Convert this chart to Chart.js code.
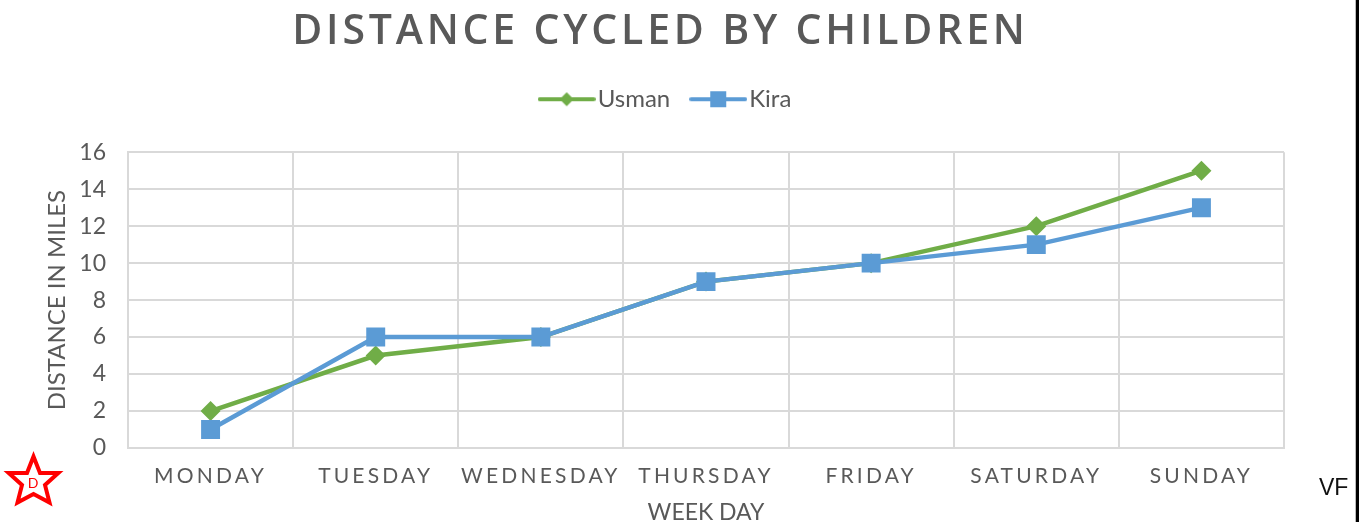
<!DOCTYPE html>
<html>
<head>
<meta charset="utf-8">
<script src="https://cdn.jsdelivr.net/npm/chart.js@4"></script>
<style>
html,body{margin:0;padding:0;background:#fff;}
#wrap{position:relative;width:1367px;height:522px;overflow:hidden;}
#rightLine{position:absolute;left:1356px;top:0;width:3px;height:522px;background:#000;border-left:1px solid #bbb;margin-left:-1px;}
#vf{position:absolute;left:1319px;top:474px;font:23px "Liberation Sans",sans-serif;color:#111;}
#star{position:absolute;left:0;top:448px;}
</style>
</head>
<body>
<div id="wrap">
<canvas id="myChart" width="1367" height="522"></canvas>
<svg id="star" width="70" height="64" viewBox="0 0 70 64">
<polygon points="33.5,8.5 40,25 58.3,25 45,37 49.5,54.5 33.5,46 17.5,54.5 22,37 8.7,25 27,25" fill="#fff" stroke="#f00" stroke-width="4"/>
<text x="33" y="40" text-anchor="middle" font-family="Lato" font-size="14" fill="#f00">D</text>
</svg>
<div id="vf">VF</div>
<div id="rightLine"></div>
</div>
<script>
"use strict";

const days=["MONDAY","TUESDAY","WEDNESDAY","THURSDAY","FRIDAY","SATURDAY","SUNDAY"];
const usman=[2,5,6,9,10,12,15];
const kira=[1,6,6,9,10,11,13];
const green="#70ad47";
const blue="#5b9bd5";
const textColor="#595959";
const gridColor="#d9d9d9";

// little canvas with line and marker, for the legend
function legendIcon(color,style) {
    let c=document.createElement("canvas");
    c.width=58;
    c.height=18;
    let ctx=c.getContext("2d");
    ctx.strokeStyle=color;
    ctx.fillStyle=color;
    ctx.lineWidth=4;
    ctx.lineCap="round";
    ctx.beginPath();
    ctx.moveTo(2,9);
    ctx.lineTo(56,9);
    ctx.stroke();
    if(style=="rectRot")
    {
        ctx.beginPath();
        ctx.moveTo(29,2);
        ctx.lineTo(36,9);
        ctx.lineTo(29,16);
        ctx.lineTo(22,9);
        ctx.fill();
    }
    else
        ctx.fillRect(21,1,16,16);
    return c;
}

function withSpacing(obj,method,spacing) {
    let orig=obj[method];
    obj[method]=function() {
        let ctx=this.ctx;
        ctx.letterSpacing=spacing;
        let res=orig.apply(this,arguments);
        ctx.letterSpacing="0px";
        return res;
    };
}

const placement={
    id:"placement",
    afterLayout:function(chart) {
        // title and legend are not centred on the canvas in the picture
        chart.titleBlock.left=-23;
        chart.titleBlock.right=1367-23;
        chart.legend.left=-14;
        chart.legend.right=1367-14;
        chart.legend.top-=31;
        chart.legend.bottom-=31;
        if(!chart.$spaced)
        {
            chart.$spaced=true;
            withSpacing(chart.titleBlock,"draw","3.8px");
            withSpacing(chart.scales.x,"drawLabels","3.2px");
        }
    }
};

new Chart(document.getElementById("myChart"),{
    type:"line",
    plugins:[placement],
    data:{
        labels:days,
        datasets:[
            {
                label:"Usman",
                data:usman,
                order:1,
                borderColor:green,
                backgroundColor:green,
                borderWidth:4.5,
                tension:0,
                pointStyle:"rectRot",
                pointRadius:10,
                pointHoverRadius:10,
                pointBorderWidth:0
            },
            {
                label:"Kira",
                data:kira,
                order:0,
                borderColor:blue,
                backgroundColor:blue,
                borderWidth:4.5,
                tension:0,
                pointStyle:"rect",
                pointRadius:13.4,
                pointHoverRadius:13.4,
                pointBorderWidth:0
            }
        ]
    },
    options:{
        responsive:false,
        animation:false,
        layout:{padding:{left:0,right:83,top:0,bottom:0}},
        plugins:{
            title:{
                display:true,
                text:"DISTANCE CYCLED BY CHILDREN",
                color:textColor,
                font:{family:"Open Sans",size:41,weight:"600"},
                padding:{top:8,bottom:32}
            },
            legend:{
                display:true,
                position:"top",
                labels:{
                    color:textColor,
                    font:{family:"Lato",size:24},
                    usePointStyle:true,
                    pointStyleWidth:38,
                    padding:29,
                    generateLabels:function(chart) {
                        return chart.data.datasets.map(function(ds,i) {
                            return {
                                text:ds.label,
                                fontColor:textColor,
                                datasetIndex:i,
                                lineWidth:0,
                                pointStyle:legendIcon(ds.borderColor,ds.pointStyle)
                            };
                        });
                    }
                }
            },
            tooltip:{enabled:false}
        },
        scales:{
            x:{
                offset:true,
                afterFit:function(scale) { scale.height=74; },
                grid:{color:gridColor,lineWidth:2,drawTicks:false,offset:true},
                border:{color:gridColor,width:2},
                ticks:{color:textColor,font:{family:"Lato",size:21},padding:16,maxRotation:0,autoSkip:false},
                title:{display:true,text:"WEEK DAY",color:textColor,font:{family:"Lato",size:23,lineHeight:1},padding:{top:8,bottom:-2}}
            },
            y:{
                min:0,
                max:16,
                afterFit:function(scale) { scale.width=128; },
                grid:{color:gridColor,lineWidth:2,drawTicks:false},
                border:{color:gridColor,width:2},
                ticks:{stepSize:2,color:textColor,font:{family:"Lato",size:23},padding:22},
                title:{display:true,text:"DISTANCE IN MILES",color:textColor,font:{family:"Lato",size:24},padding:{top:43,bottom:0}}
            }
        }
    }
});
</script>
</body>
</html>
